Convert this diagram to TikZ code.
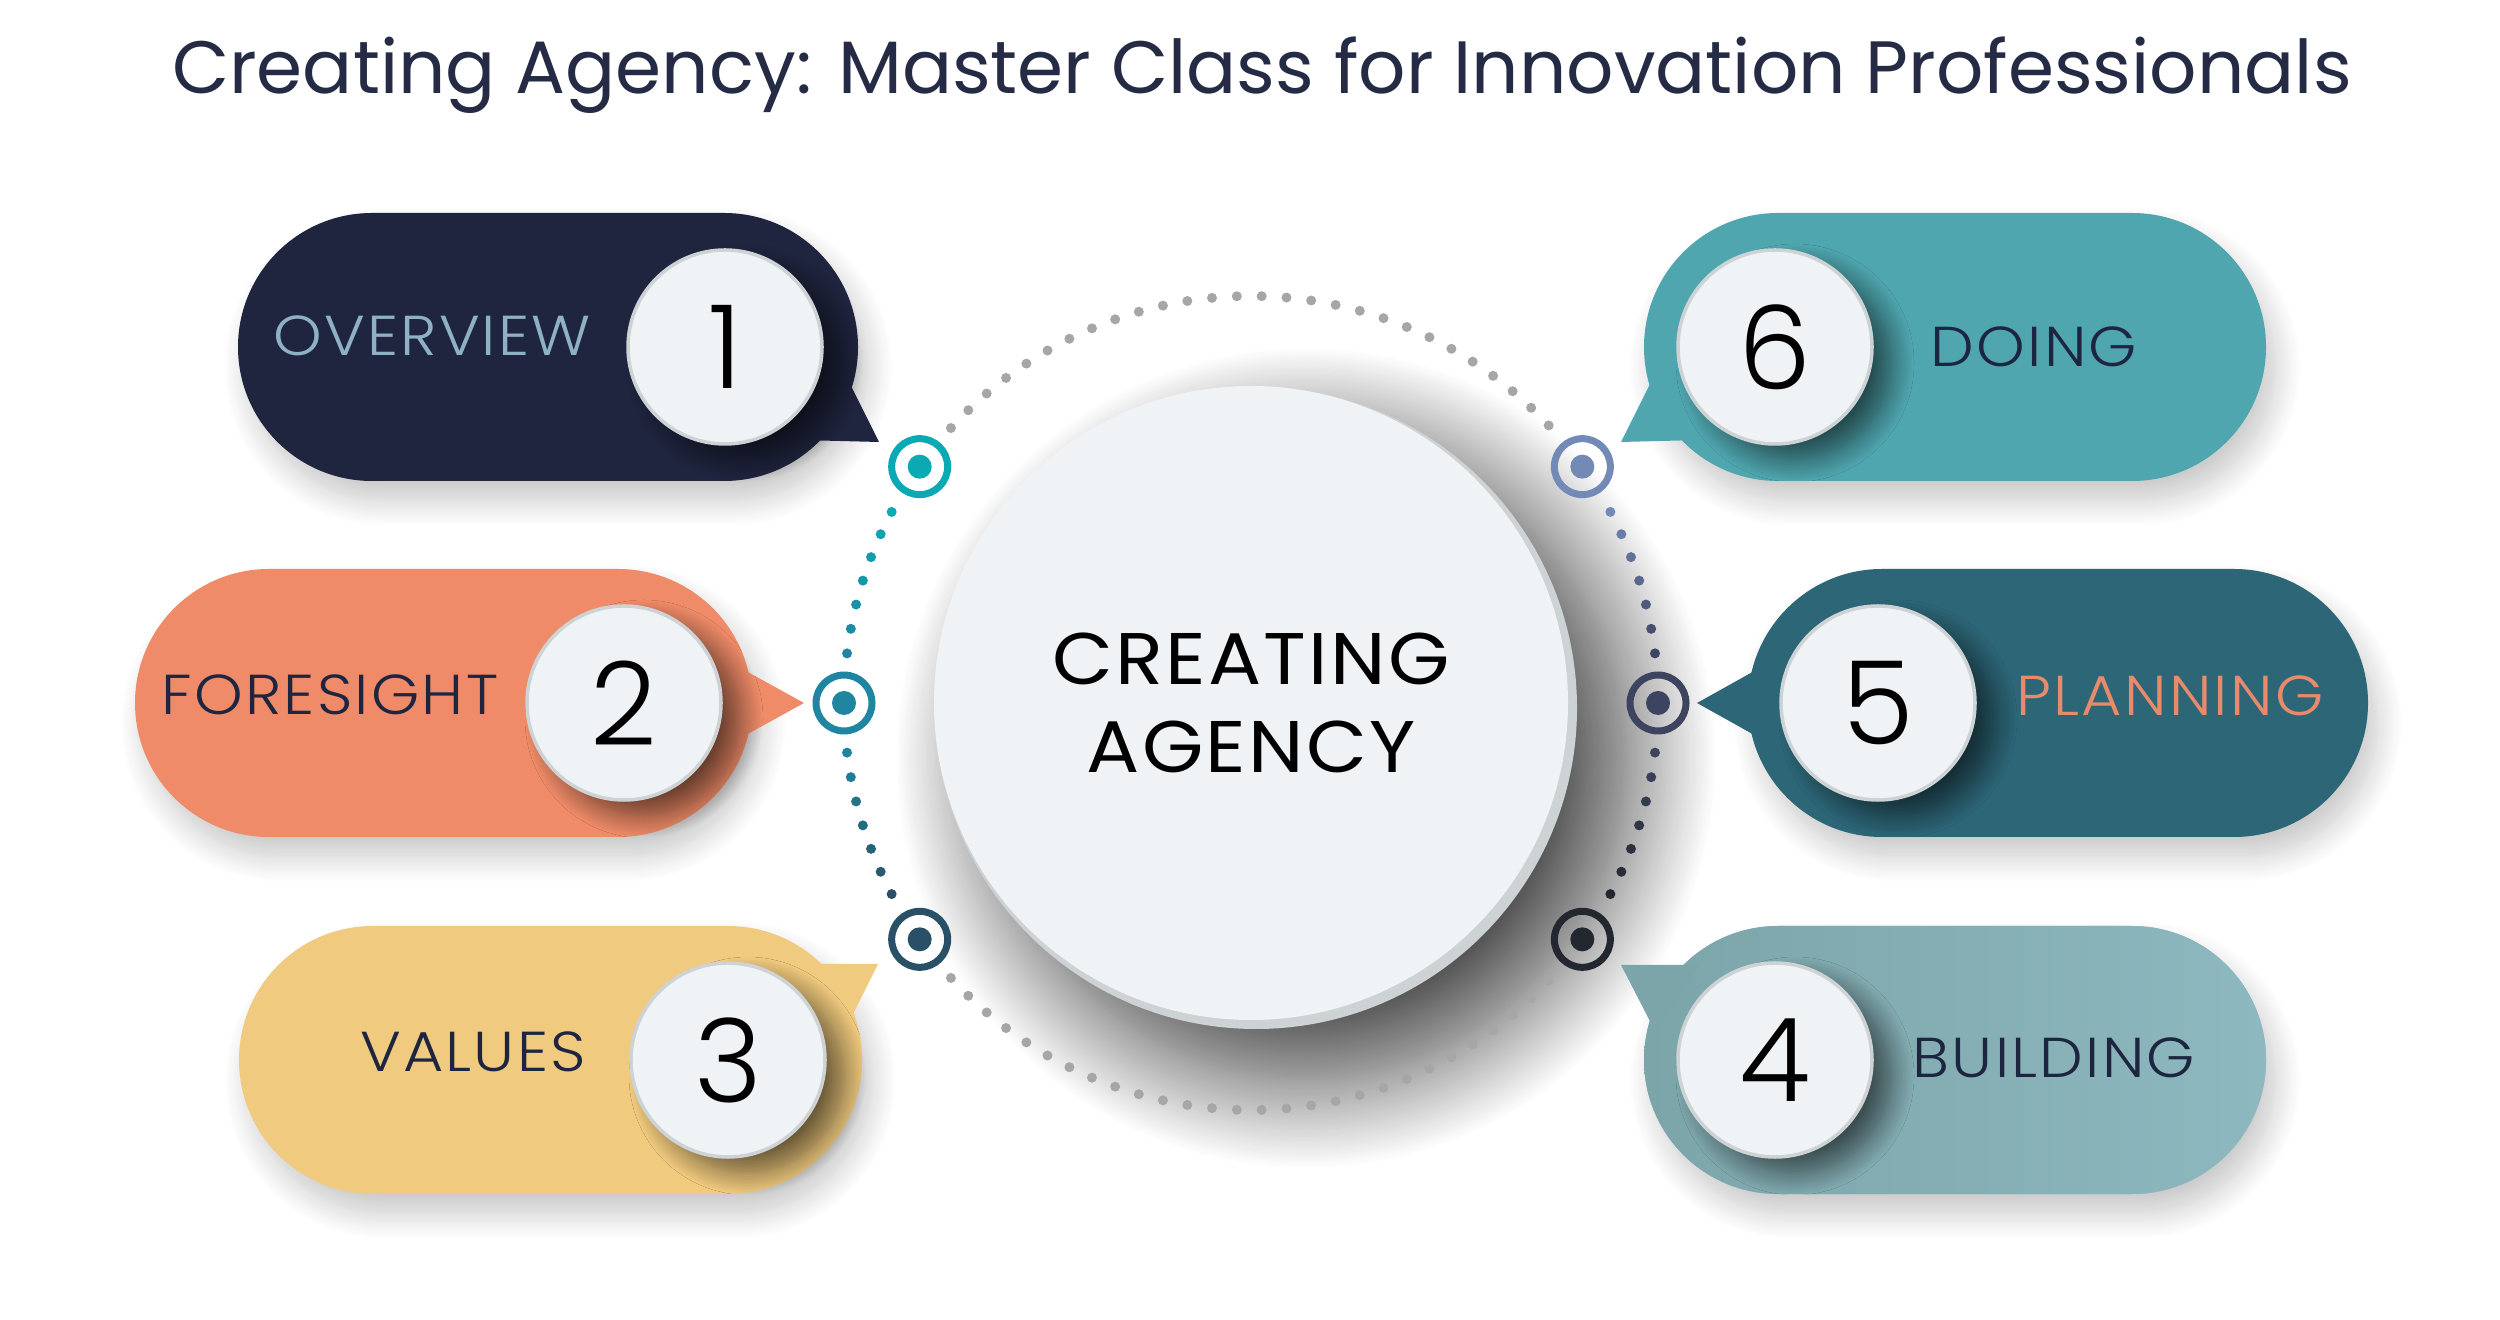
\documentclass[tikz,border=0pt]{standalone}
\usepackage{fontspec}
\setmainfont{Poppins}
\newfontfamily\thinfont{Poppins Light}
\usepackage{tikz}
\usepackage{tkz-euclide}
\usetikzlibrary{shadows.blur}

\definecolor{titlenavy}{HTML}{262B45}
\definecolor{navypill}{HTML}{20253F}
\definecolor{salmonpill}{HTML}{EF8B68}
\definecolor{sandpill}{HTML}{F0CA7E}
\definecolor{tealpill}{HTML}{4FA6AF}
\definecolor{deeppill}{HTML}{2D6677}
\definecolor{greypill}{HTML}{8DB8BF}
\definecolor{greypilldark}{HTML}{7CA5AA}
\definecolor{paletxt}{HTML}{8FB1C5}
\definecolor{inktxt}{HTML}{1E2540}
\definecolor{peachtxt}{HTML}{E98A6A}
\definecolor{discfill}{HTML}{EFF3F5}
\definecolor{discedge}{HTML}{CDD2D5}
\definecolor{dotgrey}{HTML}{A6A6A6}
\definecolor{mkone}{HTML}{0BA9B3}
\definecolor{mktwo}{HTML}{1F85A0}
\definecolor{mkthree}{HTML}{2A5067}
\definecolor{mkfour}{HTML}{23272F}
\definecolor{mkfive}{HTML}{3D4460}
\definecolor{mksix}{HTML}{7389B6}

\tikzset{
  pill/.style={fill=#1, rounded corners=1.339cm,
    blur shadow={shadow xshift=0.1cm, shadow yshift=-0.2cm, shadow blur radius=0.25cm,
      shadow blur steps=15, shadow opacity=22}},
  disc/.style={circle, fill=discfill, draw=discedge, line width=1pt, minimum size=1.94cm, inner sep=0pt,
    blur shadow={shadow xshift=0.2cm, shadow yshift=-0.16cm, shadow blur radius=0.22cm,
      shadow blur steps=15, shadow opacity=55},
    font=\thinfont\fontsize{33}{33}\selectfont},
  pilltext/.style={font=\thinfont\addfontfeature{FakeStretch=1.1,LetterSpace=4}\fontsize{16}{16}\selectfont,
    inner sep=0pt},
  ring/.style={circle, draw=#1, line width=0.07cm, minimum size=0.56cm, inner sep=0pt},
  bead/.style={circle, fill=#1, minimum size=0.24cm, inner sep=0pt}
}

\begin{document}
\begin{tikzpicture}
\useasboundingbox (0,0) rectangle (25,13.19);
\tkzDefPoints{12.51/6.16/O, 7.25/9.72/D1, 6.24/6.16/D2, 7.28/2.59/D3, 17.75/2.59/D4, 18.78/6.16/D5, 17.75/9.72/D6}

\node[anchor=base, font=\fontsize{21.1}{21.1}\selectfont, text=titlenavy] (title) at (12.62,12.25)
  {Creating Agency: Master Class for Innovation Professionals};

\fill[discedge, blur shadow={shadow xshift=0.5cm, shadow yshift=-0.5cm, shadow blur radius=0.9cm,
    shadow blur steps=40, shadow opacity=75}]
  (O) ++(0.05,-0.05) circle (3.21);
\node[circle, fill=discfill, minimum size=6.34cm, inner sep=0pt, align=center,
  font=\addfontfeature{FakeStretch=1.08,LetterSpace=3}\fontsize{20.8}{25}\selectfont] (hub) at (O) {CREATING\\AGENCY};

\foreach \a in {43,46.5,...,137.5} \fill[dotgrey] (O) ++(\a:4.07) circle (0.05);
\foreach \a in {222.5,226,...,317} \fill[dotgrey] (O) ++(\a:4.07) circle (0.05);
\foreach \i [evaluate=\i as \p using 100-\i*100/6] in {0,...,6} {
  \fill[mkone!\p!mktwo] (O) ++(152+\i*3.5:4.07) circle (0.05);
  \fill[mktwo!\p!mkthree] (O) ++(187+\i*3.5:4.07) circle (0.05);
  \fill[mksix!\p!mkfive] (O) ++(28-\i*3.5:4.07) circle (0.05);
  \fill[mkfive!\p!mkfour] (O) ++(-7-\i*3.5:4.07) circle (0.05);
}
\foreach \ang/\col [count=\n] in {144.5/mkone,180/mktwo,215.5/mkthree,-35.5/mkfour,0/mkfive,35.5/mksix}
  \path (O) ++(\ang:4.07) node[ring=\col] (m\n) {} node[bead=\col] {};

\fill[pill=navypill] (2.38,8.38) rectangle (8.58,11.06);
\fill[navypill] (8.45,9.45) -- (8.79,8.77) -- (8.0,8.79) -- cycle;
\fill[pill=salmonpill] (1.35,4.82) rectangle (7.52,7.50);
\fill[salmonpill] (7.35,6.54) -- (8.04,6.16) -- (7.35,5.78) -- cycle;
\fill[pill=sandpill] (2.39,1.25) rectangle (8.62,3.93);
\fill[sandpill] (8.45,2.89) -- (8.78,3.55) -- (8.0,3.55) -- cycle;
\fill[pill=tealpill] (16.44,8.38) rectangle (22.66,11.06);
\fill[tealpill] (16.55,9.45) -- (16.21,8.77) -- (17.0,8.79) -- cycle;
\fill[pill=deeppill] (17.48,4.82) rectangle (23.68,7.50);
\fill[deeppill] (17.65,6.54) -- (16.97,6.16) -- (17.65,5.78) -- cycle;
\shade[pill=greypill, left color=greypilldark, right color=greypill] (16.44,1.25) rectangle (22.66,3.93);
\fill[greypilldark] (16.55,2.88) -- (16.21,3.54) -- (17.0,3.54) -- cycle;

\node[disc] (d1) at (D1) {1};
\node[disc] (d2) at (D2) {2};
\node[disc] (d3) at (D3) {3};
\node[disc] (d4) at (D4) {4};
\node[disc] (d5) at (D5) {5};
\node[disc] (d6) at (D6) {6};

\node[pilltext, text=paletxt] (t1) at (4.32,9.83) {OVERVIEW};
\node[pilltext, text=inktxt] (t2) at (3.30,6.24) {FORESIGHT};
\node[pilltext, text=inktxt] (t3) at (4.73,2.67) {VALUES};
\node[pilltext, text=inktxt] (t4) at (20.54,2.61) {BUILDING};
\node[pilltext, text=peachtxt] (t5) at (21.70,6.23) {PLANNING};
\node[pilltext, text=inktxt] (t6) at (20.34,9.72) {DOING};
\end{tikzpicture}
\end{document}
